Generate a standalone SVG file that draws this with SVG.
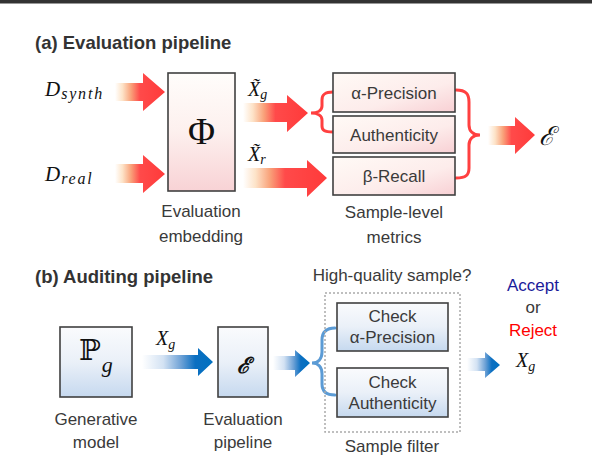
<svg xmlns="http://www.w3.org/2000/svg" width="592" height="458" viewBox="0 0 592 458">
<defs>
<linearGradient id="gRed" x1="0" y1="0" x2="1" y2="0">
<stop offset="0" stop-color="#ffffff"/>
<stop offset="0.15" stop-color="#fde3c8"/>
<stop offset="0.32" stop-color="#f9a27a"/>
<stop offset="0.5" stop-color="#ff4a4a"/>
<stop offset="1" stop-color="#ff3a3a"/>
</linearGradient>
<linearGradient id="gBlue" x1="0" y1="0" x2="1" y2="0">
<stop offset="0" stop-color="#ffffff"/>
<stop offset="0.3" stop-color="#d3e2f3"/>
<stop offset="0.55" stop-color="#6fa2d6"/>
<stop offset="0.75" stop-color="#0b6fc1"/>
<stop offset="1" stop-color="#0070c0"/>
</linearGradient>
<linearGradient id="gPhi" x1="0" y1="0" x2="0" y2="1">
<stop offset="0" stop-color="#fffdfb"/>
<stop offset="0.5" stop-color="#fdf0ee"/>
<stop offset="1" stop-color="#f8d2d5"/>
</linearGradient>
<linearGradient id="gMet" x1="0" y1="0" x2="1" y2="1">
<stop offset="0" stop-color="#fffaf6"/>
<stop offset="0.6" stop-color="#fdeceb"/>
<stop offset="1" stop-color="#f8d0d4"/>
</linearGradient>
<linearGradient id="gBox" x1="0" y1="0" x2="0" y2="1">
<stop offset="0" stop-color="#fafbfd"/>
<stop offset="0.5" stop-color="#eaf0f8"/>
<stop offset="1" stop-color="#c6d9ef"/>
</linearGradient>
<style>
.box{stroke:#404040;stroke-width:1.6}
.lbl{font-family:"Liberation Sans",Arial,sans-serif;font-size:17px;fill:#3a3a3a;text-anchor:middle}
.ttl{font-family:"Liberation Sans",Arial,sans-serif;font-size:18.5px;font-weight:bold;fill:#333}
.m{font-family:"Liberation Serif","Times New Roman",serif;font-style:italic;fill:#111}
.mr{font-family:"DejaVu Serif","Liberation Serif",serif;fill:#111}
.rb{fill:none;stroke:#ff4040;stroke-width:3;stroke-linecap:round}
.bb{fill:none;stroke:#5b9bd5;stroke-width:3;stroke-linecap:round}
.ra{fill:url(#gRed)}
.ba{fill:url(#gBlue)}
</style>
</defs>
<rect x="0" y="0" width="592" height="3.5" fill="#333"/>

<text class="ttl" x="35" y="49">(a) Evaluation pipeline</text>
<text class="ttl" x="35" y="283">(b) Auditing pipeline</text>

<g id="labels-math">
<text class="m" x="45" y="96" font-size="21">D<tspan font-size="16" dy="3" dx="1" letter-spacing="1.8">synth</tspan></text>
<text class="m" x="45" y="181" font-size="21">D<tspan font-size="16" dy="3" dx="1" letter-spacing="1.8">real</tspan></text>
<text class="m" x="248" y="96" font-size="20">X&#x303;<tspan font-size="14" dy="3">g</tspan></text>
<text class="m" x="248" y="161" font-size="20">X&#x303;<tspan font-size="14" dy="3">r</tspan></text>
<text class="m" x="156" y="345" font-size="20">X<tspan font-size="14" dy="4">g</tspan></text>
<text class="m" x="516" y="367" font-size="20">X<tspan font-size="14" dy="4">g</tspan></text>
</g>

<g id="connectors">
<polygon class="ra" points="115,83 143,83 143,73 165,92 143,111 143,101 115,101"/>
<polygon class="ra" points="115,164 143,164 143,155 165,174 143,193 143,183 115,183"/>
<polygon class="ra" points="243,103 287,103 287,95 308,113 287,132 287,122 243,122"/>
<polygon class="ra" points="243,168 307,168 307,160 327,178 307,197 307,188 243,188"/>
<polygon class="ra" points="488,126 515,126 515,117 535,135 515,154 515,145 488,145"/>
<path class="rb" d="M333,92 C324,92 322,95 322,100 L322,106 C322,110 318,113 311,113 C318,113 322,116 322,120 L322,126 C322,130 324,132 333,132"/>
<path class="rb" d="M456,90 C466,90 469,94 469,102 L469,125 C469,131 473,135 480,135 C473,135 469,139 469,145 L469,168 C469,175 466,178 456,178"/>
<polygon class="ba" points="142,355 198,355 198,348 213,362 198,376 198,369 142,369"/>
<polygon class="ba" points="273,356 295,356 295,350 310,363 295,377 295,370 273,370"/>
<polygon class="ba" points="467,358 485,358 485,352 500,365 485,378 485,371 467,371"/>
<path class="bb" d="M335,328 C326,328 322,332 322,340 L322,352 C322,359 318,363 312,363 C318,363 322,367 322,374 L322,384 C322,391 326,395 335,395"/>
</g>

<g id="phi">
<rect class="box" x="168" y="73" width="67" height="118" fill="url(#gPhi)"/>
<text x="201.5" y="144" font-size="37" text-anchor="middle" font-family="Liberation Serif, serif" fill="#111">Φ</text>
<text class="lbl" x="201" y="217">Evaluation</text>
<text class="lbl" x="201" y="242">embedding</text>
</g>

<g id="alpha-precision">
<rect class="box" x="333" y="73" width="122" height="39" fill="url(#gMet)"/>
<text class="lbl" x="394" y="99">α-Precision</text>
</g>
<g id="authenticity">
<rect class="box" x="333" y="116" width="122" height="37" fill="url(#gMet)"/>
<text class="lbl" x="394" y="141">Authenticity</text>
</g>
<g id="beta-recall">
<rect class="box" x="333" y="157" width="122" height="38" fill="url(#gMet)"/>
<text class="lbl" x="394" y="182">β-Recall</text>
</g>
<text class="lbl" x="394" y="218">Sample-level</text>
<text class="lbl" x="394" y="243">metrics</text>

<g id="E-out">
<text class="mr" x="547" y="145" font-size="26" text-anchor="middle" font-style="italic">ℰ</text>
</g>

<g id="generative">
<rect class="box" x="60" y="327" width="72" height="70" fill="url(#gBox)"/>
<text class="mr" x="79" y="360" font-size="29">ℙ<tspan class="m" font-size="22" dy="12" dx="1">g</tspan></text>
<text class="lbl" x="96" y="425">Generative</text>
<text class="lbl" x="96" y="448">model</text>
</g>

<g id="eval-pipeline">
<rect class="box" x="218" y="327" width="50" height="70" fill="url(#gBox)"/>
<text class="mr" x="243" y="373" font-size="22" text-anchor="middle" font-style="italic" font-weight="bold">ℰ</text>
<text class="lbl" x="243" y="425">Evaluation</text>
<text class="lbl" x="243" y="448">pipeline</text>
</g>

<g id="sample-filter">
<text class="lbl" x="392" y="281">High-quality sample?</text>
<rect x="325" y="293" width="135" height="139" fill="none" stroke="#aaa" stroke-width="1.5" stroke-dasharray="2,2"/>
<text class="lbl" x="392" y="452">Sample filter</text>
</g>
<g id="check-alpha">
<rect class="box" x="337" y="303" width="111" height="48" fill="url(#gBox)"/>
<text class="lbl" x="392.5" y="322">Check</text>
<text class="lbl" x="392.5" y="343">α-Precision</text>
</g>
<g id="check-auth">
<rect class="box" x="337" y="368" width="111" height="49" fill="url(#gBox)"/>
<text class="lbl" x="392.5" y="388">Check</text>
<text class="lbl" x="392.5" y="409">Authenticity</text>
</g>

<g id="decision">
<text class="lbl" x="533" y="291" style="fill:#1a1a9a">Accept</text>
<text class="lbl" x="533" y="313">or</text>
<text class="lbl" x="533" y="336" style="fill:#ff0000">Reject</text>
</g>
</svg>
